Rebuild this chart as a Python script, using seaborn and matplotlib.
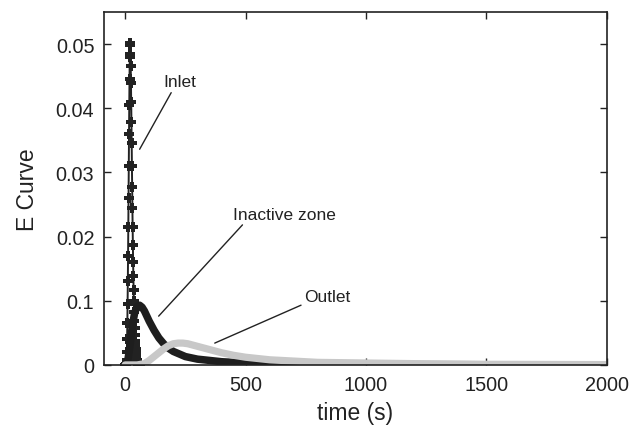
import matplotlib
matplotlib.use("Agg")
import matplotlib.pyplot as plt
import seaborn as sns
import pandas as pd

# Residence-time distribution (E curve) at three locations
inlet_t = list(range(0, 61))
inlet_e = [0.0, 0.0, 0.0, 0.0, 0.0, 0.0002, 0.0008, 0.002, 0.004, 0.0065,
           0.0095, 0.013, 0.017, 0.0215, 0.026, 0.031, 0.036, 0.0405, 0.0445, 0.048,
           0.0502, 0.0498, 0.0485, 0.0465, 0.0440, 0.041, 0.0378, 0.0345, 0.031, 0.0277,
           0.0245, 0.0215, 0.0187, 0.0161, 0.0138, 0.0117, 0.0099, 0.0083, 0.0069, 0.0057,
           0.0047, 0.0038, 0.0031, 0.0025, 0.0020, 0.0016, 0.0012, 0.0009, 0.0007, 0.0005,
           0.0004, 0.0003, 0.0003, 0.0002, 0.0002, 0.0002, 0.0001, 0.0001, 0.0001, 0.0001,
           0.0001]

inactive_t = [0, 10, 20, 30, 40, 50, 60, 70, 80, 90, 100, 120, 140, 160, 180, 200,
              250, 300, 400, 500, 700, 1000, 2000]
inactive_e = [0.0, 0.0005, 0.003, 0.0062, 0.0082, 0.0091, 0.0093, 0.0090, 0.0084, 0.0076,
              0.0068, 0.0054, 0.0042, 0.0033, 0.0026, 0.0021, 0.0013, 0.0009, 0.0005,
              0.0003, 0.0001, 0.00005, 0.0]

outlet_t = [0, 50, 80, 100, 120, 140, 160, 180, 200, 220, 240, 260, 280, 300, 350, 400,
            450, 500, 600, 700, 800, 1000, 1200, 1500, 2000]
outlet_e = [0.0, 0.0, 0.0002, 0.0007, 0.0013, 0.0019, 0.0025, 0.0030, 0.0033, 0.0034,
            0.0034, 0.0033, 0.0031, 0.0029, 0.0024, 0.0019, 0.0015, 0.0012, 0.0008,
            0.0006, 0.0004, 0.0003, 0.0002, 0.0001, 0.00005]

x_ticks = [0, 500, 1000, 1500, 2000]
y_ticks = [0, 0.01, 0.02, 0.03, 0.04, 0.05]
y_tick_labels = ["0", "0.1", "0.02", "0.03", "0.04", "0.05"]

sns.set_style("ticks")
plt.rcParams["font.family"] = ["Liberation Sans", "DejaVu Sans"]

fig = plt.figure(figsize=(6.36, 4.31), dpi=100)
ax = fig.add_axes([0.1635, 0.151, 0.7905, 0.819])

inlet = pd.DataFrame({"t": inlet_t, "E": inlet_e})
inactive = pd.DataFrame({"t": inactive_t, "E": inactive_e})
outlet = pd.DataFrame({"t": outlet_t, "E": outlet_e})

sns.lineplot(data=inlet, x="t", y="E", ax=ax, color="#222222", lw=1.4,
             marker="P", markersize=6.5, markeredgewidth=0, estimator=None)
sns.lineplot(data=inactive, x="t", y="E", ax=ax, color="#1e1e1e", lw=5.4,
             estimator=None, solid_capstyle="round")
sns.lineplot(data=outlet, x="t", y="E", ax=ax, color="#c8c8c8", lw=5.2,
             estimator=None, solid_capstyle="round")

ax.set_xlim(-88, 2000)
ax.set_ylim(0, 0.055)
ax.set_xticks(x_ticks)
ax.set_xticklabels([str(v) for v in x_ticks])
ax.set_yticks(y_ticks)
ax.set_yticklabels(y_tick_labels)
ax.tick_params(direction="in", top=True, right=True, length=5, width=1,
               labelsize=14.3, colors="#222222", pad=7)
for s in ax.spines.values():
    s.set_linewidth(1.2)
    s.set_color("#222222")

ax.set_xlabel("time (s)", fontsize=16.5, color="#222222", labelpad=5)
ax.set_ylabel("E Curve", fontsize=16.5, color="#222222", labelpad=12)

arrow = dict(arrowstyle="-", color="#222222", lw=1.0, shrinkA=0, shrinkB=0)
ax.annotate("Inlet", xy=(60, 0.0336), xytext=(226, 0.0441), fontsize=12.5,
            ha="center", va="center", color="#222222",
            arrowprops=dict(arrow, relpos=(0.3, 0.0)))
ax.annotate("Inactive zone", xy=(139, 0.0076), xytext=(662, 0.0235), fontsize=12.5,
            ha="center", va="center", color="#222222",
            arrowprops=dict(arrow, relpos=(0.12, 0.0)))
ax.annotate("Outlet", xy=(372, 0.0034), xytext=(840, 0.0107), fontsize=12.5,
            ha="center", va="center", color="#222222",
            arrowprops=dict(arrow, relpos=(0.0, 0.0)))

fig.savefig("out.png", dpi=100)
